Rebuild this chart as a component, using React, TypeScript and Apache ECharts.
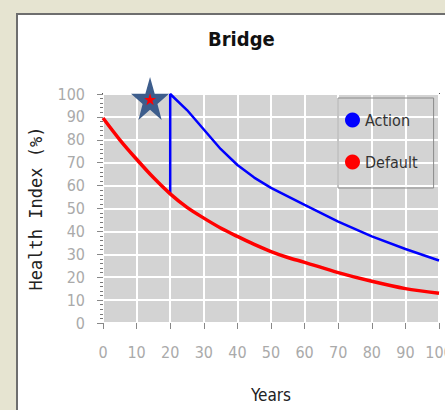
import React, { useEffect, useRef } from "react";
import * as echarts from "echarts";

const TITLE = "Bridge";
const X_NAME = "Years";
const Y_NAME = "Health Index (%)";
const SERIES_NAMES = ["Action", "Default"];

const DEFAULT_YEARS = [0, 5, 10, 15, 20, 25, 30, 35, 40, 45, 50, 55, 60, 70, 80, 90, 100];
const DEFAULT_VALUES = [89.5, 80, 71.5, 63.5, 56.4, 50.5, 45.8, 41.5, 37.8, 34.3, 31.2, 28.6, 26.5, 22, 18.2, 15, 13];

const ACTION_YEARS = [20, 20, 25, 30, 35, 40, 45, 50, 60, 70, 80, 90, 100];
const ACTION_VALUES = [56.4, 100, 93, 84.5, 76, 69, 63.5, 59, 51.6, 44.3, 37.8, 32.3, 27.3];

const STAR_POINT = [14, 98];
const STAR_INNER_POINT = [14, 97.7];

const STAR_PATH =
  "path://M50,0 L61.8,35.1 L98.1,35.1 L68.8,56.7 L79.4,90.5 L50,69 L20.6,90.5 L31.2,56.7 L1.9,35.1 L38.2,35.1 Z";

const FONT = "DejaVu Sans Condensed";

export default function App() {
  const ref = useRef<HTMLDivElement>(null);

  useEffect(() => {
    if (!ref.current) return;
    const chart = echarts.init(ref.current, null, { renderer: "svg" });
    const defaultData = DEFAULT_YEARS.map((x, i) => [x, DEFAULT_VALUES[i]]);
    const actionData = ACTION_YEARS.map((x, i) => [x, ACTION_VALUES[i]]);

    chart.setOption({
      animation: false,
      backgroundColor: "#e6e4d1",
      graphic: [
        {
          type: "rect",
          z: -100,
          shape: { x: 17, y: 14, width: 440, height: 410 },
          style: { fill: "#ffffff", stroke: "#6e6e6e", lineWidth: 2 },
        },
      ],
      title: {
        text: TITLE,
        left: 203,
        top: 24,
        textStyle: { fontFamily: FONT, fontSize: 20, fontWeight: "bold", color: "#111" },
      },
      legend: {
        data: SERIES_NAMES,
        orient: "vertical",
        left: 338,
        top: 98,
        padding: [14, 16, 18, 7],
        itemGap: 26,
        itemWidth: 15,
        itemHeight: 15,
        icon: "circle",
        borderColor: "#8a8a8a",
        borderWidth: 1,
        textStyle: { fontFamily: FONT, fontSize: 16, color: "#333" },
      },
      grid: {
        left: 103,
        top: 94,
        right: 6,
        bottom: 87,
        containLabel: false,
        outerBoundsMode: "none",
        show: true,
        backgroundColor: "#d3d3d3",
        borderColor: "#555",
        borderWidth: 2,
      },
      xAxis: {
        type: "value",
        min: 0,
        max: 100,
        interval: 10,
        name: X_NAME,
        nameLocation: "middle",
        nameGap: 63,
        nameTextStyle: { fontFamily: FONT, fontSize: 17, color: "#222" },
        axisLine: { show: false },
        axisTick: { show: true, length: 6, lineStyle: { color: "#888" } },
        axisLabel: { margin: 21, fontFamily: FONT, fontSize: 16, color: "#aaa" },
        splitLine: { show: true, lineStyle: { color: "#ffffff", width: 2 } },
      },
      yAxis: {
        type: "value",
        min: 0,
        max: 100,
        interval: 10,
        name: Y_NAME,
        nameLocation: "middle",
        nameGap: 59,
        nameTextStyle: { fontFamily: "DejaVu Sans Mono", fontSize: 17, color: "#222" },
        axisLine: { show: false },
        axisTick: { show: true, length: 6, lineStyle: { color: "#888" } },
        minorTick: { show: true, splitNumber: 5, length: 3, lineStyle: { color: "#777" } },
        axisLabel: { margin: 18, fontFamily: FONT, fontSize: 16, color: "#aaa" },
        splitLine: { show: true, lineStyle: { color: "#ffffff", width: 2 } },
      },
      series: [
        {
          name: SERIES_NAMES[0],
          type: "line",
          data: actionData,
          showSymbol: false,
          smooth: false,
          itemStyle: { color: "#0000ff" },
          lineStyle: { color: "#0000ff", width: 2.5 },
          z: 3,
        },
        {
          name: SERIES_NAMES[1],
          type: "line",
          data: defaultData,
          showSymbol: false,
          smooth: 0.3,
          itemStyle: { color: "#ff0000" },
          lineStyle: { color: "#ff0000", width: 3.5 },
          z: 4,
        },
        {
          name: "star",
          type: "scatter",
          data: [STAR_POINT],
          symbol: STAR_PATH,
          symbolSize: [38, 43],
          itemStyle: { color: "#3d5d8c", opacity: 1 },
          clip: false,
          silent: true,
          z: 10,
        },
        {
          name: "starInner",
          type: "scatter",
          data: [STAR_INNER_POINT],
          symbol: STAR_PATH,
          symbolSize: [12, 12],
          itemStyle: { color: "#ff0000", opacity: 1 },
          clip: false,
          silent: true,
          z: 11,
        },
      ],
    });
    return () => chart.dispose();
  }, []);

  return (
    <div
      ref={ref}
      style={{ position: "fixed", left: 0, top: 0, width: 445, height: 410 }}
    />
  );
}
